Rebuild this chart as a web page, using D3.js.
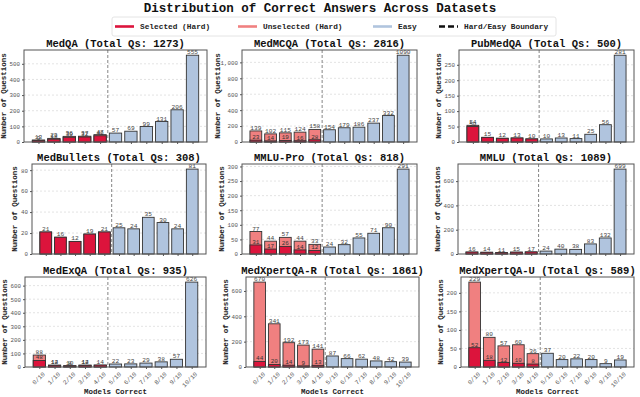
<!DOCTYPE html>
<html><head><meta charset="utf-8">
<script src="https://cdn.jsdelivr.net/npm/d3@7"></script>
<style>
body{margin:0;background:#fff}
svg{display:block}
text{font-family:"Liberation Mono","DejaVu Sans Mono",monospace}
</style>
</head><body>
<svg id="c" width="640" height="397"></svg>
<script>
// ---------------- data ----------------
const bins = ["0/10","1/10","2/10","3/10","4/10","5/10","6/10","7/10","8/10","9/10","10/10"];
const datasets = ["MedQA","MedMCQA","PubMedQA","MedBullets","MMLU-Pro","MMLU","MedExQA","MedXpertQA-R","MedXpertQA-U"];
const totalQs = [1273, 2816, 500, 308, 818, 1089, 935, 1861, 589];
// hard bins (0/10 .. 4/10): total count and selected count
const hardTotals = [
  [13,23,36,37,47],
  [139,102,115,124,158],
  [54,15,12,13,10],
  [21,16,12,19,21],
  [77,44,57,44,33],
  [16,14,11,15,17],
  [88,14,10,14,14],
  [670,341,192,173,141],
  [229,80,57,60,36]
];
const hardSelected = [
  [9,18,30,32,40],
  [23,14,19,16,28],
  [50,15,12,13,10],
  [21,16,12,19,21],
  [31,17,26,14,12],
  [16,14,11,15,17],
  [48,12,8,12,14],
  [44,20,14,9,13],
  [52,18,12,10,8]
];
// easy bins (5/10 .. 10/10)
const easyCounts = [
  [57,69,99,131,206,555],
  [154,179,186,237,332,1090],
  [10,13,11,25,56,281],
  [25,24,35,30,24,81],
  [24,32,55,71,90,291],
  [24,40,38,83,132,699],
  [22,23,29,38,57,626],
  [87,66,62,48,42,39],
  [37,20,22,20,9,19]
];
const yTickValues = [
  [0,100,200,300,400,500],
  [0,200,400,600,800,1000],
  [0,50,100,150,200,250],
  [0,20,40,60,80],
  [0,50,100,150,200,250,300],
  [0,200,400,600],
  [0,100,200,300,400,500,600],
  [0,200,400,600],
  [0,50,100,150,200]
];
const legendLabels = ["Selected (Hard)","Unselected (Hard)","Easy","Hard/Easy Boundary"];

// ---------------- layout / style ----------------
const C_SEL = "#dc143c", C_UNSEL = "#f08080", C_EASY = "#b0c4de", C_EDGE = "#333";
const panelLR = [[24,207],[242,417],[459,634],[32,206],[242,417],[458,634],[25,206],[246,419],[461,634]];
const rowTB = [[50,142],[164,254],[277,367]];

const svg = d3.select("#c");

svg.append("text").attr("x",320).attr("y",12).attr("text-anchor","middle")
  .attr("font-size",12.5).attr("font-weight","bold").attr("fill","#111")
  .text("Distribution of Correct Answers Across Datasets");

// legend
const lg = svg.append("g");
lg.append("rect").attr("x",112).attr("y",17).attr("width",444).attr("height",19).attr("rx",2)
  .attr("fill","#fff").attr("stroke","#ddd").attr("stroke-width",0.8);
const legItems = [
  {x:115, color:C_SEL, dash:null},
  {x:238, color:C_UNSEL, dash:null},
  {x:373, color:C_EASY, dash:null},
  {x:439, color:"#111", dash:"6,3"}
];
legItems.forEach((it,i)=>{
  lg.append("line").attr("x1",it.x).attr("x2",it.x+19).attr("y1",26.5).attr("y2",26.5)
    .attr("stroke",it.color).attr("stroke-width",2.6).attr("stroke-dasharray",it.dash);
  lg.append("text").attr("x",it.x+25).attr("y",29.3).attr("font-size",7.8).attr("font-weight","bold")
    .attr("fill","#222").text(legendLabels[i]);
});

datasets.forEach((name,p)=>{
  const row = Math.floor(p/3);
  const [L,R] = panelLR[p];
  const [T,B] = rowTB[row];
  const counts = hardTotals[p].concat(easyCounts[p]);
  const maxV = d3.max(counts);
  const x = d3.scaleLinear().domain([-0.94,10.94]).range([L,R]);
  const y = d3.scaleLinear().domain([0,maxV*1.06]).range([B,T]);
  const bw = x(0.8)-x(0);
  const g = svg.append("g");

  // grid
  g.selectAll("line.grid").data(yTickValues[p].filter(v=>v>0)).join("line")
    .attr("x1",L).attr("x2",R).attr("y1",d=>y(d)).attr("y2",d=>y(d))
    .attr("stroke","#d0d0d0").attr("stroke-width",0.6).attr("stroke-dasharray","2,2");

  // bars
  counts.forEach((v,i)=>{
    const fill = i<5 ? C_UNSEL : C_EASY;
    g.append("rect").attr("x",x(i)-bw/2).attr("y",y(v)).attr("width",bw).attr("height",y(0)-y(v))
      .attr("fill",fill).attr("stroke",C_EDGE).attr("stroke-width",0.9);
    if(i<5){
      const s = hardSelected[p][i];
      g.append("rect").attr("x",x(i)-bw/2).attr("y",y(s)).attr("width",bw).attr("height",y(0)-y(s))
        .attr("fill",C_SEL).attr("stroke",C_EDGE).attr("stroke-width",0.9);
      if(s<v){
        g.append("text").attr("x",x(i)).attr("y",y(s)-1).attr("text-anchor","middle")
          .attr("font-size",6).attr("fill","#333").text(s);
      }
    }
    g.append("text").attr("x",x(i)).attr("y",y(v)-1).attr("text-anchor","middle")
      .attr("font-size",6.2).attr("fill","#444").text(v);
  });

  // boundary
  g.append("line").attr("x1",x(4.5)).attr("x2",x(4.5)).attr("y1",T).attr("y2",B)
    .attr("stroke","#777").attr("stroke-width",0.9).attr("stroke-dasharray","3,2");

  // frame
  g.append("rect").attr("x",L).attr("y",T).attr("width",R-L).attr("height",B-T)
    .attr("fill","none").attr("stroke","#555").attr("stroke-width",1);

  // y axis
  const ya = g.append("g").attr("transform",`translate(${L},0)`)
    .call(d3.axisLeft(y).tickValues(yTickValues[p]).tickSize(2).tickPadding(2));
  ya.select(".domain").remove();
  ya.selectAll("line").attr("stroke","#555");
  ya.selectAll("text").attr("font-size",5.8).attr("fill","#555").attr("font-family","Liberation Mono, monospace");

  // x axis
  const xa = g.append("g").attr("transform",`translate(0,${B})`)
    .call(d3.axisBottom(x).tickValues(d3.range(11)).tickSize(2).tickFormat((d,i)=> row===2 ? bins[i] : ""));
  xa.select(".domain").remove();
  xa.selectAll("line").attr("stroke","#555");
  if(row===2){
    xa.selectAll("text").attr("font-size",6.2).attr("fill","#555").attr("font-family","Liberation Mono, monospace")
      .attr("text-anchor","end").attr("dy",0).attr("transform","translate(2,4) rotate(-45)");
    g.append("text").attr("x",(L+R)/2).attr("y",394).attr("text-anchor","middle")
      .attr("font-size",7.5).attr("font-weight","bold").attr("fill","#222").text("Models Correct");
  }

  // titles / labels
  g.append("text").attr("x",(L+R)/2).attr("y",T-3).attr("text-anchor","middle")
    .attr("font-size",10.5).attr("font-weight","bold").attr("fill","#111")
    .text(`${name} (Total Qs: ${totalQs[p]})`);
  const lx = L - (d3.max(yTickValues[p]).toString().length*3.4) - 8;
  g.append("text").attr("transform",`translate(${lx},${(T+B)/2}) rotate(-90)`).attr("text-anchor","middle")
    .attr("font-size",7.5).attr("font-weight","bold").attr("fill","#222").text("Number of Questions");
});
</script>
</body></html>
